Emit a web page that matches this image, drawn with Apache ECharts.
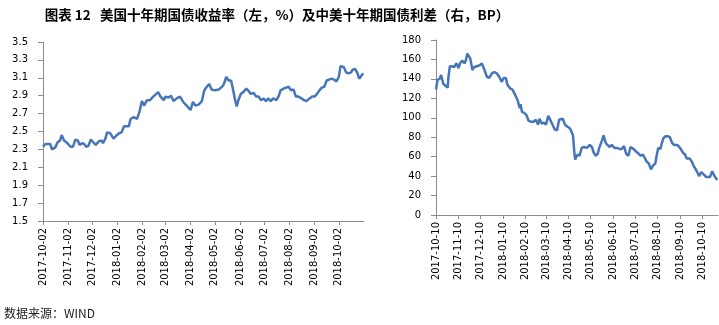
<!DOCTYPE html>
<html>
<head>
<meta charset="utf-8">
<script src="https://cdn.jsdelivr.net/npm/echarts@6/dist/echarts.min.js"></script>
<style>html,body{margin:0;padding:0;background:#fff;}#c{width:719px;height:325px;}</style>
</head>
<body>
<div id="c"></div>
<script>
// ---- data ----
const titleText = '图表 12   美国十年期国债收益率（左，%）及中美十年期国债利差（右，BP）';
const sourceText = '数据来源：WIND';

const leftTicks = ['2017-10-02','2017-11-02','2017-12-02','2018-01-02','2018-02-02','2018-03-02','2018-04-02','2018-05-02','2018-06-02','2018-07-02','2018-08-02','2018-09-02','2018-10-02'];
const rightTicks = ['2017-10-10','2017-11-10','2017-12-10','2018-01-10','2018-02-10','2018-03-10','2018-04-10','2018-05-10','2018-06-10','2018-07-10','2018-08-10','2018-09-10','2018-10-10'];
const leftYTicks = [1.5,1.7,1.9,2.1,2.3,2.5,2.7,2.9,3.1,3.3,3.5];

// US 10Y treasury yield (%)
const leftDates = ['2017-10-02','2017-10-05','2017-10-07','2017-10-11','2017-10-13','2017-10-17','2017-10-20','2017-10-23','2017-10-25','2017-10-28',
'2017-11-01','2017-11-05','2017-11-08','2017-11-11','2017-11-14','2017-11-16','2017-11-19','2017-11-22','2017-11-24','2017-11-27','2017-11-30',
'2017-12-03','2017-12-06','2017-12-10','2017-12-13','2017-12-15','2017-12-18','2017-12-20','2017-12-24','2017-12-28','2017-12-31',
'2018-01-04','2018-01-07','2018-01-10','2018-01-16','2018-01-18','2018-01-22','2018-01-26','2018-01-29',
'2018-02-01','2018-02-04','2018-02-07','2018-02-11','2018-02-15','2018-02-17','2018-02-21','2018-02-24','2018-02-28',
'2018-03-02','2018-03-06','2018-03-09','2018-03-12','2018-03-16','2018-03-20','2018-03-24','2018-03-26','2018-03-29',
'2018-04-02','2018-04-05','2018-04-08','2018-04-12','2018-04-16','2018-04-19','2018-04-22','2018-04-25','2018-04-28',
'2018-05-02','2018-05-07','2018-05-09','2018-05-12','2018-05-14','2018-05-16','2018-05-19','2018-05-22','2018-05-24','2018-05-27','2018-05-29','2018-05-31',
'2018-06-03','2018-06-06','2018-06-10','2018-06-13','2018-06-15','2018-06-19','2018-06-22','2018-06-25','2018-06-28',
'2018-07-01','2018-07-04','2018-07-07','2018-07-10','2018-07-13','2018-07-17','2018-07-20','2018-07-22','2018-07-26','2018-07-29',
'2018-08-01','2018-08-04','2018-08-07','2018-08-10','2018-08-13','2018-08-17','2018-08-20','2018-08-23','2018-08-27','2018-08-30',
'2018-09-02','2018-09-05','2018-09-08','2018-09-11','2018-09-14','2018-09-17','2018-09-20','2018-09-23','2018-09-26','2018-09-29',
'2018-10-02','2018-10-04','2018-10-08','2018-10-11','2018-10-14','2018-10-17','2018-10-19','2018-10-22','2018-10-25','2018-10-27','2018-10-29','2018-11-01'];
const leftValues = [2.33,2.36,2.38,2.36,2.30,2.32,2.38,2.40,2.46,2.40,
2.37,2.33,2.33,2.41,2.40,2.35,2.37,2.36,2.33,2.34,2.41,
2.38,2.35,2.39,2.40,2.37,2.42,2.49,2.48,2.42,2.45,
2.48,2.49,2.56,2.56,2.64,2.66,2.64,2.72,
2.84,2.79,2.85,2.85,2.89,2.90,2.94,2.89,2.85,
2.89,2.88,2.90,2.84,2.87,2.89,2.83,2.85,2.78,
2.74,2.83,2.79,2.80,2.84,2.96,3.00,3.03,2.97,
2.96,2.97,2.99,3.01,3.05,3.11,3.07,3.07,2.99,2.85,2.78,2.85,
2.92,2.94,2.98,2.95,2.92,2.93,2.89,2.89,2.85,
2.87,2.84,2.87,2.84,2.87,2.85,2.90,2.96,2.98,2.99,
3.00,2.96,2.97,2.89,2.89,2.87,2.85,2.84,2.87,2.89,
2.89,2.92,2.96,2.99,3.00,3.07,3.08,3.09,3.08,3.06,
3.11,3.23,3.22,3.16,3.15,3.16,3.19,3.20,3.15,3.09,3.09,3.15];

// China-US 10Y spread (BP)
const rightDates = ['2017-10-10','2017-10-12','2017-10-15','2017-10-17','2017-10-20','2017-10-23','2017-10-26','2017-10-27','2017-10-29',
'2017-11-01','2017-11-04','2017-11-07','2017-11-10','2017-11-12','2017-11-15','2017-11-18','2017-11-20','2017-11-22','2017-11-26','2017-11-29',
'2017-12-01','2017-12-05','2017-12-09','2017-12-12','2017-12-15','2017-12-19','2017-12-22','2017-12-26','2017-12-29',
'2018-01-01','2018-01-05','2018-01-08','2018-01-11','2018-01-14','2018-01-16','2018-01-20','2018-01-23','2018-01-27','2018-01-30',
'2018-02-02','2018-02-03','2018-02-05','2018-02-08','2018-02-11','2018-02-14','2018-02-17','2018-02-21','2018-02-24','2018-02-27',
'2018-03-01','2018-03-04','2018-03-07','2018-03-10','2018-03-13','2018-03-17','2018-03-19','2018-03-22','2018-03-25','2018-03-28','2018-03-30',
'2018-04-02','2018-04-05','2018-04-08','2018-04-12','2018-04-16','2018-04-18','2018-04-19','2018-04-22','2018-04-25','2018-04-28',
'2018-05-01','2018-05-05','2018-05-09','2018-05-12','2018-05-14','2018-05-17','2018-05-20','2018-05-22','2018-05-26','2018-05-28','2018-05-31',
'2018-06-02','2018-06-05','2018-06-08','2018-06-12','2018-06-15','2018-06-19','2018-06-22','2018-06-25','2018-06-28',
'2018-07-01','2018-07-04','2018-07-08','2018-07-12','2018-07-15','2018-07-18','2018-07-21','2018-07-24','2018-07-26','2018-07-29',
'2018-08-01','2018-08-04','2018-08-07','2018-08-09','2018-08-11','2018-08-14','2018-08-16','2018-08-18','2018-08-21','2018-08-24','2018-08-27','2018-08-30',
'2018-09-02','2018-09-06','2018-09-09','2018-09-11','2018-09-14','2018-09-17','2018-09-19','2018-09-23','2018-09-26','2018-09-29',
'2018-10-03','2018-10-06','2018-10-09','2018-10-12','2018-10-16','2018-10-18','2018-10-21','2018-10-24','2018-10-26','2018-10-28','2018-10-31'];
const rightValues = [129,139,140,144,135,133,131,141,153,
153,152,156,151,156,159,156,159,166,161,149,
152,153,154,156,150,142,141,146,147,
146,142,137,141,141,134,130,129,123,118,
110,114,106,105,103,97,96,96,98,93,
99,94,95,93,102,96,97,88,87,98,100,
99,93,91,89,82,63,57,62,61,69,
70,69,72,70,65,61,63,69,77,82,74,
72,70,72,69,69,68,68,71,63,
61,70,68,65,63,61,62,58,55,53,
47,51,53,62,69,68,74,79,81,81,80,74,
72,72,70,72,64,62,58,58,55,50,
45,40,44,42,39,37,39,45,46,39,36];

// ---- chart ----
function ts(s){const p=s.split('-').map(Number);return Date.UTC(p[0],p[1]-1,p[2]);}
function fmt(v){const d=new Date(v);const m=d.getUTCMonth()+1, dd=d.getUTCDate();return d.getUTCFullYear()+'-'+(m<10?'0':'')+m+'-'+(dd<10?'0':'')+dd;}

const lineColor = '#4675B8';
const axisColor = '#8C8C8C';
const labelFont = {fontSize:10, color:'#000', fontFamily:'DejaVu Sans'};

function xAxis(gi, ticks, min, max){
  const tv = ticks.map(ts);
  return {
    type:'value', gridIndex:gi, min:ts(min), max:ts(max), scale:true,
    axisLine:{show:true, onZero:false, lineStyle:{color:axisColor, width:1}},
    axisTick:{show:true, customValues:tv, length:4, lineStyle:{color:axisColor}},
    axisLabel:Object.assign({customValues:tv, rotate:90, margin:7, formatter:fmt, hideOverlap:false}, labelFont),
    splitLine:{show:false}, minorTick:{show:false}
  };
}

const chart = echarts.init(document.getElementById('c'), null, {renderer:'canvas'});
chart.setOption({
  animation:false,
  backgroundColor:'#fff',
  graphic:[
    {type:'text', x:277, y:15, style:{text:titleText, textAlign:'center', textVerticalAlign:'middle', font:'bold 13.5px "Noto Sans CJK SC"', fill:'#000'}},
    {type:'text', x:4, y:313, style:{text:sourceText, textVerticalAlign:'middle', font:'12px "Noto Sans CJK SC"', fill:'#222'}}
  ],
  grid:[
    {left:43, top:42, width:321, height:179},
    {left:436, top:40, width:282, height:175}
  ],
  xAxis:[
    xAxis(0, leftTicks, '2017-10-02', '2018-11-02'),
    xAxis(1, rightTicks, '2017-10-10', '2018-11-01')
  ],
  yAxis:[
    {type:'value', gridIndex:0, min:1.5, max:3.5,
     axisLine:{show:true, lineStyle:{color:axisColor}},
     axisTick:{show:true, customValues:leftYTicks, length:5, inside:false, lineStyle:{color:axisColor}},
     axisLabel:Object.assign({customValues:leftYTicks, margin:15, formatter:v=>Number(v).toFixed(1)}, labelFont),
     splitLine:{show:false}},
    {type:'value', gridIndex:1, min:0, max:180, interval:20,
     axisLine:{show:true, lineStyle:{color:axisColor}},
     axisTick:{show:true, length:5, lineStyle:{color:axisColor}},
     axisLabel:Object.assign({margin:15}, labelFont),
     splitLine:{show:false}}
  ],
  series:[
    {type:'line', xAxisIndex:0, yAxisIndex:0, showSymbol:false, symbol:'none',
     lineStyle:{color:lineColor, width:2.5}, data:leftDates.map((d,i)=>[ts(d), leftValues[i]])},
    {type:'line', xAxisIndex:1, yAxisIndex:1, showSymbol:false, symbol:'none',
     lineStyle:{color:lineColor, width:2.5}, data:rightDates.map((d,i)=>[ts(d), rightValues[i]])}
  ]
});
</script>
</body>
</html>
